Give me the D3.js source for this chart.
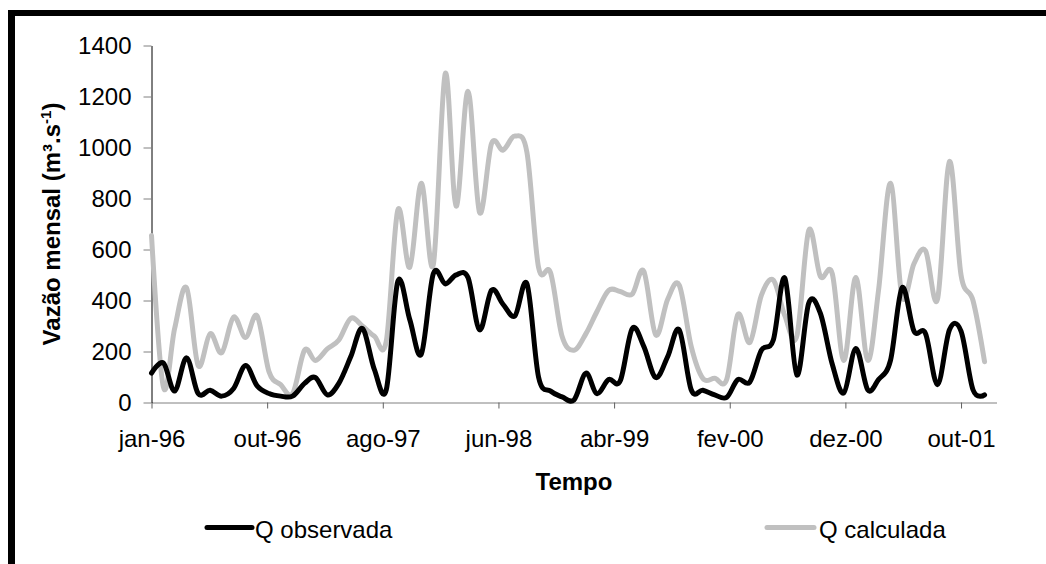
<!DOCTYPE html>
<html>
<head>
<meta charset="utf-8">
<script src="https://cdn.jsdelivr.net/npm/d3@7"></script>
<style>
  body { margin: 0; background: #fff; }
  text { font-family: "Liberation Sans", Arial, sans-serif; }
</style>
</head>
<body>
<svg id="chart" width="1046" height="564"></svg>
<script>
// ---- Data (monthly, jan-96 .. dez-01) ----
const seriesNames = ["Q observada", "Q calculada"];
const observada = [
  115, 155, 45, 175, 35, 48, 25, 55, 145, 65, 35, 25,
  25, 75, 98, 30, 75, 180, 290, 130, 50, 475, 325, 190,
  505, 465, 500, 490, 285, 440, 385, 340, 465, 100, 45, 22,
  10, 115, 35, 90, 85, 290, 220, 98, 180, 285, 50, 48,
  30, 20, 90, 80, 205, 245, 488, 108, 390, 350, 150, 38,
  212, 50, 90, 165, 450, 280, 270, 70, 285, 280, 50, 30
];
const calculada = [
  655, 60, 290, 450, 145, 270, 195, 335, 255, 340, 120, 70,
  35, 205, 165, 210, 245, 330, 300, 260, 240, 755, 530, 860,
  540, 1290, 770, 1220, 745, 1015, 990, 1045, 980, 530, 510, 260,
  205, 270, 355, 440, 435, 425, 515, 265, 405, 460, 220, 95,
  95, 90, 345, 235, 420, 480, 340, 260, 675, 495, 505, 165,
  490, 165, 440, 860, 415, 545, 595, 405, 945, 500, 400, 160
];
const xTickLabels = ["jan-96", "out-96", "ago-97", "jun-98", "abr-99", "fev-00", "dez-00", "out-01"];
const xTickDayOffsets = [0, 300, 600, 900, 1200, 1500, 1800, 2100];
const yTicks = [0, 200, 400, 600, 800, 1000, 1200, 1400];

// ---- Setup ----
const svg = d3.select("#chart");
svg.append("rect").attr("width", 1046).attr("height", 564).attr("fill", "#fff");

// frame (left and top thick black borders)
svg.append("rect").attr("x", 8).attr("y", 10).attr("width", 7).attr("height", 554).attr("fill", "#000");
svg.append("rect").attr("x", 8).attr("y", 10).attr("width", 1038).attr("height", 6).attr("fill", "#000");

const start = new Date(Date.UTC(1996, 0, 1));
const end = new Date(Date.UTC(2002, 0, 1));
const dates = d3.utcMonth.range(start, end);

const x = d3.scaleUtc().domain([start, end]).range([151.5, 996.5]);
const y = d3.scaleLinear().domain([0, 1400]).range([402.5, 45.5]);

// X axis
const xTickDates = xTickDayOffsets.map(d => d3.utcDay.offset(start, d));
const xAxis = d3.axisBottom(x)
  .tickValues(xTickDates)
  .tickFormat((d, i) => xTickLabels[i])
  .tickSize(6)
  .tickSizeOuter(0);
const gx = svg.append("g").attr("transform", "translate(0,402.5)").call(xAxis);
gx.select(".domain").attr("stroke", "#808080").attr("stroke-width", 1);
gx.selectAll(".tick line").attr("stroke", "#606060");
gx.selectAll(".tick text")
  .attr("y", 44.5).attr("dy", 0)
  .attr("font-size", 24).attr("fill", "#000")
  .style("font-family", '"Liberation Sans", Arial, sans-serif');

// Y axis
const yAxis = d3.axisLeft(y).tickValues(yTicks).tickFormat(d3.format("d"))
  .tickSize(8).tickSizeOuter(0).tickPadding(12);
const gy = svg.append("g").attr("transform", "translate(151.5,0)").call(yAxis);
gy.select(".domain").attr("stroke", "#000").attr("stroke-width", 1);
gy.selectAll(".tick line").attr("stroke", "#808080");
gy.selectAll(".tick text")
  .attr("font-size", 24).attr("fill", "#000")
  .style("font-family", '"Liberation Sans", Arial, sans-serif');

// Lines
const line = d3.line()
  .x(d => x(d.date))
  .y(d => y(d.v))
  .curve(d3.curveCatmullRom.alpha(0));

const calcData = dates.map((d, i) => ({ date: d, v: calculada[i] }));
const obsData = dates.map((d, i) => ({ date: d, v: observada[i] }));

svg.append("path").datum(calcData)
  .attr("d", line).attr("fill", "none")
  .attr("stroke", "#c0c0c0").attr("stroke-width", 5)
  .attr("stroke-linejoin", "round").attr("stroke-linecap", "round");
svg.append("path").datum(obsData)
  .attr("d", line).attr("fill", "none")
  .attr("stroke", "#000").attr("stroke-width", 5)
  .attr("stroke-linejoin", "round").attr("stroke-linecap", "round");

// Axis titles
svg.append("text")
  .attr("x", 574).attr("y", 490)
  .attr("text-anchor", "middle")
  .attr("font-size", 24).attr("font-weight", "bold")
  .text("Tempo");

const yt = svg.append("text")
  .attr("transform", "translate(60,224) rotate(-90)")
  .attr("text-anchor", "middle")
  .attr("font-size", 24).attr("font-weight", "bold");
yt.append("tspan").text("Vazão mensal (m³.s");
yt.append("tspan").attr("font-size", 15).attr("dy", -9).text("-1");
yt.append("tspan").attr("dy", 9).text(")");

// Legend
const legendItems = [
  { name: seriesNames[0], color: "#000", x1: 207, x2: 252, tx: 255 },
  { name: seriesNames[1], color: "#c0c0c0", x1: 767, x2: 814, tx: 819 }
];
legendItems.forEach(it => {
  svg.append("line")
    .attr("x1", it.x1).attr("x2", it.x2)
    .attr("y1", 527.5).attr("y2", 527.5)
    .attr("stroke", it.color).attr("stroke-width", 5)
    .attr("stroke-linecap", "round");
  svg.append("text")
    .attr("x", it.tx).attr("y", 538)
    .attr("font-size", 24).attr("fill", "#000")
    .text(it.name);
});
</script>
</body>
</html>
